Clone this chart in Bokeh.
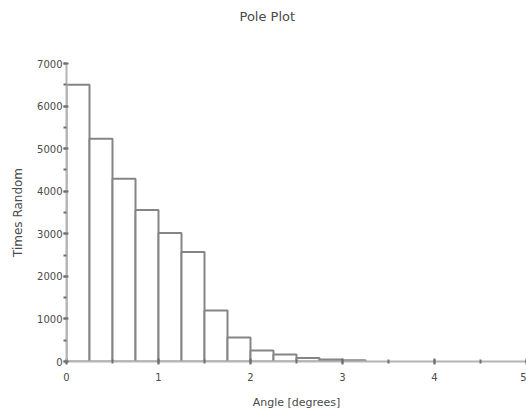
from bokeh.plotting import figure
from bokeh.models import Range1d, SingleIntervalTicker, Title
from bokeh.embed import file_html
from bokeh.resources import INLINE

# Data: histogram of angles (bin width 0.25 degrees)
bin_left = [0.0, 0.25, 0.5, 0.75, 1.0, 1.25, 1.5, 1.75, 2.0, 2.25, 2.5, 2.75, 3.0]
bin_width = 0.25
times_random = [6500, 5230, 4290, 3560, 3020, 2570, 1200, 565, 260, 165, 80, 45, 30]

bin_right = [b + bin_width for b in bin_left]

FONT = "DejaVu Sans"
TEXT = "#4a4a4a"
AXIS = "#b4b4b4"
BAR = "#858585"

p = figure(width=526, height=411, output_backend="svg", toolbar_location=None,
           x_range=Range1d(0, 5), y_range=Range1d(0, 7000),
           min_border_left=66, min_border_right=0, min_border_top=0, min_border_bottom=49)

p.title.text = "Pole Plot"
p.title.text_font = FONT
p.title.text_font_size = "13px"
p.title.text_font_style = "normal"
p.title.text_color = TEXT
p.title.align = "left"
p.title.offset = 173
p.title.standoff = 13

# empty spacer panel between the title and the plot frame
p.add_layout(Title(text=" ", text_font_size="28px", standoff=0), "above")

p.quad(left=bin_left, right=bin_right, top=times_random, bottom=0,
       fill_color="white", line_color=BAR, line_width=2)

p.grid.visible = False
p.outline_line_color = None
p.background_fill_color = "white"
p.border_fill_color = "white"

p.xaxis.ticker = SingleIntervalTicker(interval=1, num_minor_ticks=2)
p.yaxis.ticker = SingleIntervalTicker(interval=1000, num_minor_ticks=2)

for ax in (p.xaxis, p.yaxis):
    ax.axis_line_color = AXIS
    ax.axis_line_width = 2
    ax.major_tick_line_color = "#707070"
    ax.minor_tick_line_color = "#707070"
    ax.major_tick_line_width = 2
    ax.minor_tick_line_width = 2
    ax.major_label_text_font = FONT
    ax.major_label_text_font_size = "10px"
    ax.major_label_text_color = TEXT
    ax.axis_label_text_font = FONT
    ax.axis_label_text_font_style = "normal"
    ax.axis_label_text_color = TEXT

p.xaxis.axis_label = "Angle [degrees]"
p.yaxis.axis_label = "Times Random"
p.xaxis.axis_label_text_font_size = "11px"
p.yaxis.axis_label_text_font_size = "12px"

p.xaxis.major_tick_in = 3
p.xaxis.major_tick_out = 3
p.xaxis.minor_tick_in = 2
p.xaxis.minor_tick_out = 2
p.yaxis.major_tick_in = 2
p.yaxis.major_tick_out = 3
p.yaxis.minor_tick_in = 0
p.yaxis.minor_tick_out = 3

p.xaxis.major_label_standoff = 8
p.yaxis.major_label_standoff = 1
p.xaxis.axis_label_standoff = 12
p.yaxis.axis_label_standoff = 9

open("out.html", "w").write(file_html(p, INLINE))
